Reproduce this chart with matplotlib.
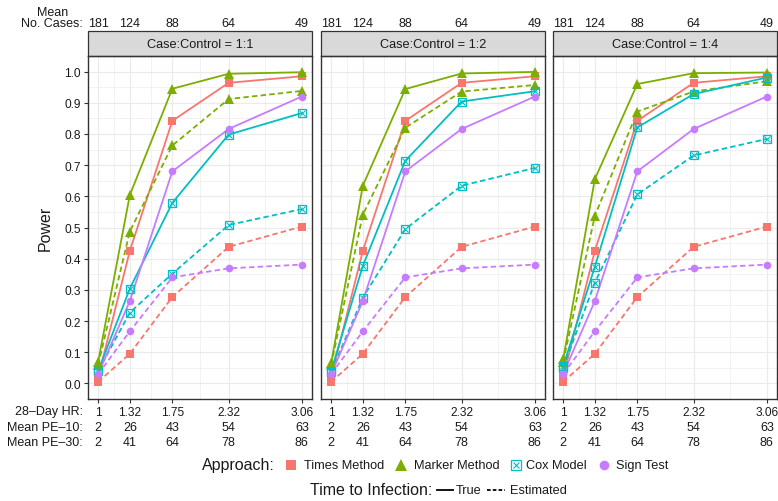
import matplotlib
matplotlib.use('Agg')
import matplotlib.pyplot as plt
import matplotlib.transforms as mtransforms
from matplotlib.lines import Line2D
from matplotlib.patches import Rectangle
import numpy as np

plt.rcParams['font.family'] = ['Liberation Sans', 'DejaVu Sans']

# data
hr = [1, 1.32, 1.75, 2.32, 3.06]
hr_labels = ['1', '1.32', '1.75', '2.32', '3.06']
pe10 = [2, 26, 43, 54, 63]
pe30 = [2, 41, 64, 78, 86]
cases = [181, 124, 88, 64, 49]
ratios = ['1:1', '1:2', '1:4']

# one list per panel (1:1, 1:2, 1:4)
times_true = [[0.02, 0.425, 0.842, 0.964, 0.985],
              [0.02, 0.425, 0.842, 0.964, 0.985],
              [0.02, 0.425, 0.842, 0.964, 0.985]]
times_est = [[0.005, 0.095, 0.277, 0.438, 0.503],
             [0.005, 0.095, 0.277, 0.438, 0.503],
             [0.005, 0.095, 0.277, 0.438, 0.503]]
marker_true = [[0.07, 0.604, 0.945, 0.993, 0.998],
               [0.065, 0.634, 0.944, 0.994, 0.999],
               [0.077, 0.655, 0.960, 0.995, 0.997]]
marker_est = [[0.06, 0.487, 0.763, 0.912, 0.938],
              [0.06, 0.541, 0.820, 0.936, 0.957],
              [0.07, 0.537, 0.872, 0.936, 0.969]]
cox_true = [[0.04, 0.304, 0.579, 0.798, 0.867],
            [0.04, 0.377, 0.714, 0.904, 0.937],
            [0.055, 0.374, 0.821, 0.928, 0.981]]
cox_est = [[0.04, 0.227, 0.352, 0.508, 0.559],
           [0.037, 0.275, 0.495, 0.634, 0.691],
           [0.05, 0.323, 0.606, 0.731, 0.784]]
sign_true = [[0.03, 0.264, 0.680, 0.816, 0.920],
             [0.03, 0.264, 0.680, 0.816, 0.920],
             [0.03, 0.264, 0.680, 0.816, 0.920]]
sign_est = [[0.03, 0.167, 0.340, 0.369, 0.381],
            [0.03, 0.167, 0.340, 0.369, 0.381],
            [0.03, 0.167, 0.340, 0.369, 0.381]]

approaches = ['Times Method', 'Marker Method', 'Cox Model', 'Sign Test']
colors = ['#F8766D', '#7CAE00', '#00BFC4', '#C77CFF']
markers = ['s', '^', 's', 'o']
msizes = [5.5, 6.5, 5.5, 5.5]
series_true = [times_true, marker_true, cox_true, sign_true]
series_est = [times_est, marker_est, cox_est, sign_est]

W, H = 778, 502
fig = plt.figure(figsize=(W / 100, H / 100), dpi=100)

def fx(px):
    return px / W

def fy(py):
    return 1 - py / H

panel_left = [88, 321, 553]
panel_w = 224
panel_top, panel_bot = 57, 400
strip_h = 25
dash = (3.0, 1.8)
txt_col = '#1a1a1a'


def draw_mark(target, x, y, i, transform=None, ms=None):
    kw = {} if transform is None else {'transform': transform}
    size = msizes[i] if ms is None else ms
    if approaches[i] == 'Cox Model':
        a = Line2D(x, y, ls='none', marker='s', ms=size, mfc='none', mec=colors[i], mew=0.9, **kw)
        b = Line2D(x, y, ls='none', marker='x', ms=size * 0.7, mec=colors[i], mew=0.8, **kw)
        return [a, b]
    return [Line2D(x, y, ls='none', marker=markers[i], ms=size, mfc=colors[i], mec=colors[i], mew=0, **kw)]


for p in range(3):
    ax = fig.add_axes([fx(panel_left[p]), 1 - panel_bot / H, panel_w / W, (panel_bot - panel_top) / H])
    ax.set_xlim(1 - 0.103, 3.06 + 0.103)
    ax.set_ylim(-0.05, 1.05)

    # grid
    ax.set_xticks(hr)
    ax.set_xticks([(hr[k] + hr[k + 1]) / 2 for k in range(len(hr) - 1)], minor=True)
    ax.set_yticks(np.arange(0, 1.01, 0.1))
    ax.set_yticks(np.arange(0.05, 1.0, 0.1), minor=True)
    ax.grid(True, which='major', color='#EBEBEB', lw=0.9)
    ax.grid(True, which='minor', color='#EBEBEB', lw=0.45)
    ax.set_axisbelow(True)
    for s in ax.spines.values():
        s.set_color('#333333')
        s.set_linewidth(1.0)

    ax.set_xticklabels(hr_labels, fontsize=8.6, color=txt_col)
    ax.tick_params(axis='x', which='major', length=3.2, width=0.8, color='#333333', pad=2)
    ax.tick_params(which='minor', length=0)
    if p == 0:
        ax.set_yticklabels(['%.1f' % v for v in np.arange(0, 1.01, 0.1)], fontsize=8.6, color=txt_col)
        ax.tick_params(axis='y', which='major', length=3.2, width=0.8, color='#333333', pad=2)
    else:
        ax.set_yticklabels([])
        ax.tick_params(axis='y', which='major', length=0)

    # lines
    for i in range(4):
        ax.plot(hr, series_est[i][p], color=colors[i], lw=1.3, ls='--', dashes=dash)
        ax.plot(hr, series_true[i][p], color=colors[i], lw=1.3, ls='-')
    for i in range(4):
        for arr in (series_est[i][p], series_true[i][p]):
            for art in draw_mark(ax, hr, arr, i):
                ax.add_line(art)

    # strip
    ax.add_patch(Rectangle((0, 1), 1, strip_h / (panel_bot - panel_top), transform=ax.transAxes,
                           clip_on=False, fc='#D9D9D9', ec='#333333', lw=0.9))
    ax.text(0.5, 1 + strip_h / 2 / (panel_bot - panel_top), 'Case:Control = ' + ratios[p],
            transform=ax.transAxes, ha='center', va='center', fontsize=9.2, color=txt_col)

    # annotation rows above and below
    trans = mtransforms.blended_transform_factory(ax.transData, fig.transFigure)
    for k in range(len(hr)):
        ax.text(hr[k], fy(24), str(cases[k]), transform=trans, ha='center', va='center',
                fontsize=9, color=txt_col)
        ax.text(hr[k], fy(428), str(pe10[k]), transform=trans, ha='center', va='center',
                fontsize=9, color=txt_col)
        ax.text(hr[k], fy(443), str(pe30[k]), transform=trans, ha='center', va='center',
                fontsize=9, color=txt_col)

    if p == 0:
        ax.set_ylabel('Power', fontsize=11.5, color=txt_col, labelpad=8)

# left row labels
fig.text(fx(53), fy(13), 'Mean', ha='center', va='center', fontsize=9, color=txt_col)
fig.text(fx(83), fy(24), 'No. Cases:', ha='right', va='center', fontsize=9, color=txt_col)
fig.text(fx(83), fy(412), '28\u2013Day HR:', ha='right', va='center', fontsize=9, color=txt_col)
fig.text(fx(83), fy(428), 'Mean PE\u201310:', ha='right', va='center', fontsize=9, color=txt_col)
fig.text(fx(83), fy(443), 'Mean PE\u201330:', ha='right', va='center', fontsize=9, color=txt_col)

# legend: approach
ly = fy(466)
fig.text(fx(275), ly, 'Approach:', ha='right', va='center', fontsize=11.5, color=txt_col)
key_x = [291, 401, 516, 604]
lab_x = [304, 414, 526, 616]
for i in range(4):
    for art in draw_mark(fig, [fx(key_x[i])], [ly], i, transform=fig.transFigure,
                         ms=msizes[i] + 1.5):
        fig.add_artist(art)
    fig.text(fx(lab_x[i]), ly, approaches[i], ha='left', va='center', fontsize=9.2, color=txt_col)

# legend: time to infection
ty = fy(491)
fig.text(fx(432), ty, 'Time to Infection:', ha='right', va='center', fontsize=11.5, color=txt_col)
fig.add_artist(Line2D([fx(437), fx(453)], [ty, ty], color='black', lw=1.3, transform=fig.transFigure))
fig.text(fx(456), ty, 'True', ha='left', va='center', fontsize=9.2, color=txt_col)
fig.add_artist(Line2D([fx(487), fx(505)], [ty, ty], color='black', lw=1.3, ls='--', dashes=(2.0, 1.2),
                      transform=fig.transFigure))
fig.text(fx(510), ty, 'Estimated', ha='left', va='center', fontsize=9.2, color=txt_col)

fig.savefig('out.png', dpi=100)
